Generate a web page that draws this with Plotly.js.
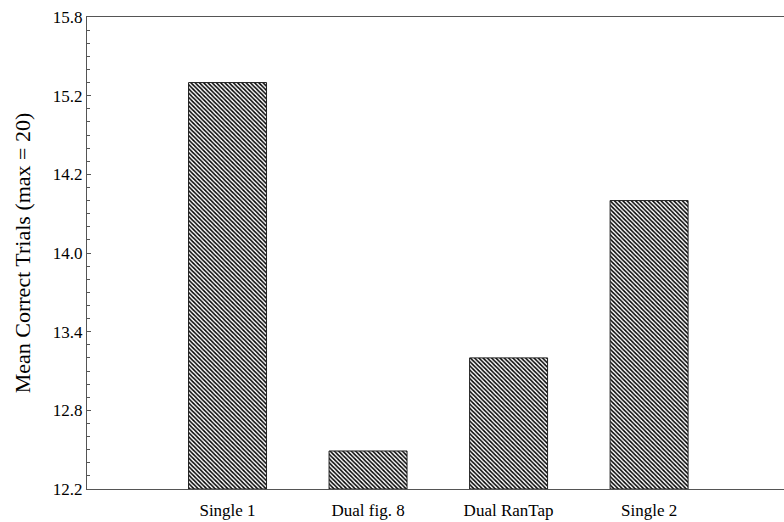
<!DOCTYPE html>
<html><head><meta charset="utf-8">
<script src="https://cdn.plot.ly/plotly-3.0.1.min.js"></script>
<style>html,body{margin:0;padding:0;background:#fff}#chart{width:784px;height:522px}</style>
</head><body><div id="chart"></div>
<script>
const categories = ["Single 1", "Dual fig. 8", "Dual RanTap", "Single 2"];
const meanCorrect = [15.3, 12.49, 13.2, 14.4];
const yTickVals = [12.2, 12.8, 13.4, 14.0, 14.6, 15.2, 15.8];
const yTickText = ["12.2", "12.8", "13.4", "14.0", "14.2", "15.2", "15.8"];
const baseValue = 12.2;

const serif = "Liberation Serif, Times New Roman, serif";
const trace = {
  type: "bar",
  x: [0, 1, 2, 3],
  y: meanCorrect.map(v => v - baseValue),
  base: baseValue,
  marker: {
    color: "#000",
    pattern: {shape: "\\", size: 3, solidity: 0.5, fgcolor: "#000", bgcolor: "#fff"},
    line: {color: "#222", width: 1}
  },
  width: 0.555,
  hoverinfo: "skip"
};

const layout = {
  width: 784, height: 522,
  margin: {l: 87, r: 0, t: 17, b: 33},
  paper_bgcolor: "#fff", plot_bgcolor: "#fff",
  showlegend: false,
  font: {family: serif, color: "#000"},
  xaxis: {
    range: [-1, 3.96],
    tickvals: [0, 1, 2, 3],
    ticktext: categories,
    ticks: "",
    showline: true, linecolor: "#555", linewidth: 1, mirror: true,
    showgrid: false, zeroline: false,
    tickfont: {family: serif, size: 17, color: "#000"},
    ticklabelstandoff: 6
  },
  yaxis: {
    range: [12.2, 15.8],
    tickvals: yTickVals,
    ticktext: yTickText,
    ticks: "inside", ticklen: 4, tickcolor: "#555", tickwidth: 1,
    minor: {dtick: 0.1, tick0: 12.2, ticks: "inside", ticklen: 3, tickcolor: "#555", showgrid: false},
    showline: true, linecolor: "#555", linewidth: 1,
    showgrid: false, zeroline: false,
    tickfont: {family: serif, size: 17, color: "#000"},
    title: {text: "Mean Correct Trials (max = 20)", font: {family: serif, size: 22, color: "#000"}, standoff: 16}
  }
};
Plotly.newPlot("chart", [trace], layout, {displayModeBar: false, staticPlot: true});
</script></body></html>
